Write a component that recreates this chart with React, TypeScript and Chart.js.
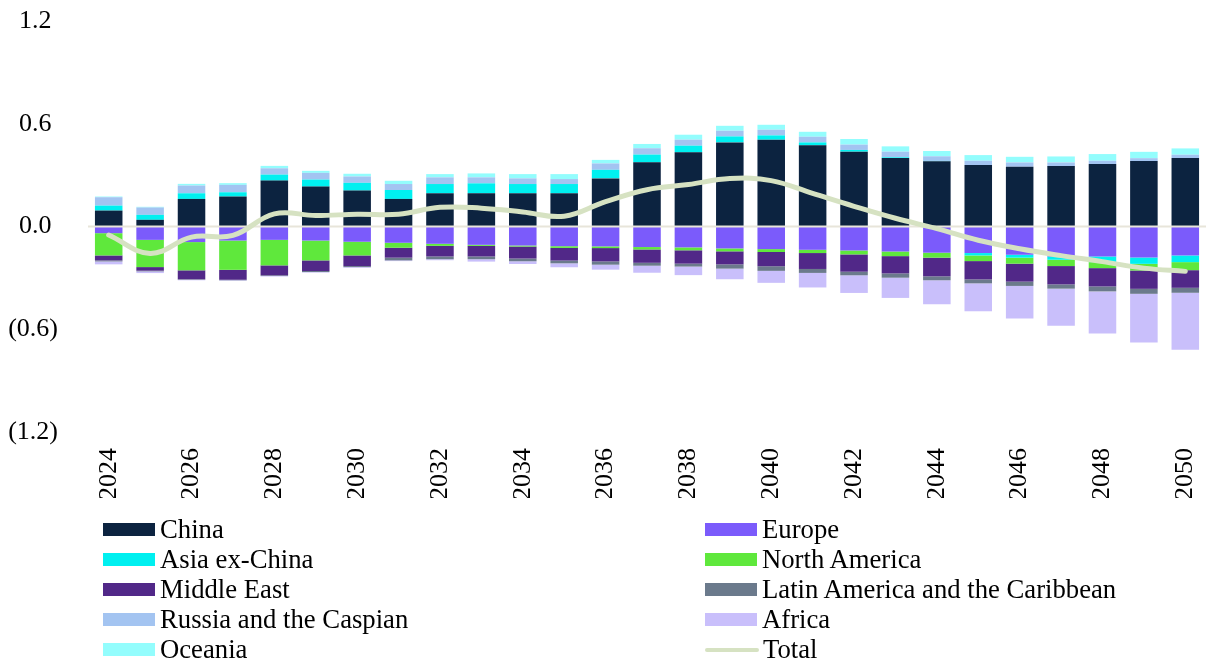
import React, { useEffect, useRef } from "react";
import { Chart, registerables } from "chart.js";

Chart.register(...registerables);

const years = [
  "2024", "2025", "2026", "2027", "2028", "2029", "2030", "2031", "2032", "2033",
  "2034", "2035", "2036", "2037", "2038", "2039", "2040", "2041", "2042", "2043",
  "2044", "2045", "2046", "2047", "2048", "2049", "2050",
];

const yTickValues = [1.2, 0.6, 0, -0.6, -1.2];
const yTickLabels = ["1.2 ", "0.6 ", "0.0 ", "(0.6)", "(1.2)"];

const china = [0.093, 0.039, 0.161, 0.175, 0.268, 0.233, 0.21, 0.161, 0.194, 0.194, 0.194, 0.194, 0.281, 0.375, 0.433, 0.491, 0.507, 0.474, 0.437, 0.4, 0.381, 0.359, 0.349, 0.353, 0.365, 0.382, 0.4];
const europe = [-0.039, -0.078, -0.091, -0.082, -0.078, -0.082, -0.089, -0.095, -0.101, -0.107, -0.111, -0.115, -0.116, -0.12, -0.122, -0.128, -0.132, -0.136, -0.14, -0.146, -0.153, -0.155, -0.165, -0.175, -0.175, -0.181, -0.169];
const asiaExChina = [0.029, 0.029, 0.033, 0.025, 0.035, 0.041, 0.045, 0.052, 0.054, 0.058, 0.054, 0.054, 0.05, 0.045, 0.039, 0.035, 0.025, 0.017, 0.01, 0.004, 0.002, -0.014, -0.017, -0.019, -0.033, -0.037, -0.039];
const northAmerica = [-0.13, -0.159, -0.165, -0.171, -0.149, -0.116, -0.08, -0.029, -0.012, -0.006, -0.006, -0.01, -0.01, -0.014, -0.017, -0.017, -0.017, -0.019, -0.023, -0.027, -0.029, -0.033, -0.035, -0.037, -0.035, -0.039, -0.047];
const middleEast = [-0.029, -0.021, -0.052, -0.058, -0.058, -0.062, -0.062, -0.058, -0.062, -0.062, -0.07, -0.074, -0.078, -0.078, -0.078, -0.076, -0.083, -0.093, -0.101, -0.101, -0.109, -0.107, -0.105, -0.107, -0.107, -0.107, -0.103];
const latinAmerica = [-0.006, -0.004, -0.003, -0.003, -0.004, -0.006, -0.006, -0.016, -0.016, -0.016, -0.016, -0.016, -0.019, -0.017, -0.017, -0.025, -0.027, -0.023, -0.021, -0.025, -0.023, -0.023, -0.025, -0.025, -0.029, -0.029, -0.029];
const russiaCaspian = [0.049, 0.043, 0.045, 0.043, 0.037, 0.039, 0.037, 0.035, 0.039, 0.035, 0.033, 0.029, 0.037, 0.037, 0.035, 0.033, 0.033, 0.033, 0.031, 0.033, 0.027, 0.025, 0.025, 0.021, 0.019, 0.017, 0.019];
const africa = [-0.017, -0.01, -0.003, -0.003, -0.003, -0.003, -0.004, -0.004, -0.006, -0.014, -0.016, -0.023, -0.029, -0.041, -0.05, -0.062, -0.07, -0.085, -0.103, -0.118, -0.14, -0.163, -0.19, -0.217, -0.246, -0.285, -0.332];
const oceania = [0.004, 0.004, 0.01, 0.01, 0.014, 0.012, 0.016, 0.019, 0.019, 0.023, 0.025, 0.029, 0.021, 0.025, 0.029, 0.029, 0.029, 0.029, 0.033, 0.031, 0.031, 0.033, 0.033, 0.035, 0.039, 0.037, 0.037];
const total = [-0.05, -0.157, -0.062, -0.052, 0.074, 0.064, 0.072, 0.072, 0.112, 0.107, 0.085, 0.06, 0.145, 0.215, 0.245, 0.28, 0.268, 0.193, 0.118, 0.048, -0.012, -0.08, -0.13, -0.17, -0.205, -0.243, -0.262];

const barSeries = [
  { label: "China", data: china, color: "#0c2340" },
  { label: "Europe", data: europe, color: "#7b5bfb" },
  { label: "Asia ex-China", data: asiaExChina, color: "#00f0f0" },
  { label: "North America", data: northAmerica, color: "#5fe83c" },
  { label: "Middle East", data: middleEast, color: "#512888" },
  { label: "Latin America and the Caribbean", data: latinAmerica, color: "#6b7a8c" },
  { label: "Russia and the Caspian", data: russiaCaspian, color: "#a3c4f1" },
  { label: "Africa", data: africa, color: "#c9bffb" },
  { label: "Oceania", data: oceania, color: "#93fdfd" },
];
const totalLabel = "Total";
const totalColor = "#d6e2c2";
const zeroColor = "#e8e5da";

const FONT = "'Liberation Serif', 'Times New Roman', serif";

export default function App() {
  const ref = useRef<HTMLCanvasElement>(null);

  useEffect(() => {
    if (!ref.current) return;
    const zeroLine = {
      id: "zeroLine",
      beforeDatasetDraw(chart: any, args: any) {
        if (args.meta.type !== "line") return;
        const { ctx, chartArea, scales } = chart;
        const y = scales.y.getPixelForValue(0);
        ctx.save();
        ctx.strokeStyle = zeroColor;
        ctx.lineWidth = 2;
        ctx.beginPath();
        ctx.moveTo(chartArea.left, y);
        ctx.lineTo(chartArea.right, y);
        ctx.stroke();
        ctx.restore();
      },
    };

    const datasets: any[] = barSeries.map((s) => ({
      type: "bar",
      label: s.label,
      data: s.data,
      backgroundColor: s.color,
      borderWidth: 0,
      stack: "bars",
      categoryPercentage: 1,
      barPercentage: 0.665,
    }));
    datasets.push({
      type: "line",
      label: totalLabel,
      data: total,
      borderColor: totalColor,
      backgroundColor: totalColor,
      borderWidth: 5,
      pointRadius: 0,
      tension: 0.4,
      stack: "total",
      order: -1,
      borderCapStyle: "round",
    });

    const chart = new Chart(ref.current, {
      type: "bar",
      data: { labels: years, datasets },
      plugins: [zeroLine],
      options: {
        animation: false,
        responsive: true,
        maintainAspectRatio: false,
        layout: { padding: { left: 8, right: 0, top: 0, bottom: 164 } },
        plugins: { legend: { display: false }, tooltip: { enabled: false } },
        scales: {
          x: {
            stacked: true,
            grid: { display: false, drawTicks: false },
            border: { display: false },
            afterFit: (axis: any) => {
              axis.height = 66;
              axis.paddingLeft = 0;
              axis.paddingRight = 0;
            },
            ticks: {
              autoSkip: false,
              minRotation: 90,
              maxRotation: 90,
              padding: 16,
              color: "#000",
              font: { family: FONT, size: 26 },
              callback: (_v: any, i: number) => (i % 2 === 0 ? years[i] : ""),
            },
          },
          y: {
            stacked: true,
            min: -1.2,
            max: 1.2,
            afterBuildTicks: (axis: any) => {
              axis.ticks = yTickValues.map((v) => ({ value: v }));
            },
            afterFit: (axis: any) => {
              axis.width = 80;
              axis.paddingTop = 21;
              axis.paddingBottom = 16;
              axis.paddingLeft = 0;
              axis.paddingRight = 0;
            },
            grid: { display: false, drawTicks: false },
            border: { display: false },
            ticks: {
              padding: 30,
              color: "#000",
              font: { family: FONT, size: 26 },
              callback: (v: any) => {
                const idx = yTickValues.findIndex((t) => Math.abs(t - Number(v)) < 1e-9);
                return idx >= 0 ? yTickLabels[idx] : "";
              },
            },
          },
        },
      },
    });
    return () => chart.destroy();
  }, []);

  const legendItems = [
    ...barSeries.map((s) => ({ label: s.label, color: s.color, line: false })),
    { label: totalLabel, color: totalColor, line: true },
  ];

  return (
    <div style={{ position: "absolute", left: 0, top: 0, width: 1206, height: 662 }}>
      <div style={{ position: "absolute", left: 0, top: 0, width: 1206, height: 662 }}>
        <canvas ref={ref} />
      </div>
      {legendItems.map((it, i) => {
        const col = i % 2;
        const row = Math.floor(i / 2);
        const left = col === 0 ? 103 : 705;
        const cy = 529.5 + row * 30;
        return (
          <div
            key={it.label}
            style={{
              position: "absolute",
              left,
              top: cy - 15,
              height: 30,
              display: "flex",
              alignItems: "center",
              fontFamily: FONT,
              fontSize: 26.7,
              color: "#000",
              whiteSpace: "nowrap",
            }}
          >
            {it.line ? (
              <span style={{ display: "inline-block", width: 54, height: 4, borderRadius: 2, background: it.color, marginRight: 4 }} />
            ) : (
              <span style={{ display: "inline-block", width: 52, height: 13, background: it.color, marginRight: 5 }} />
            )}
            <span>{it.label}</span>
          </div>
        );
      })}
    </div>
  );
}
